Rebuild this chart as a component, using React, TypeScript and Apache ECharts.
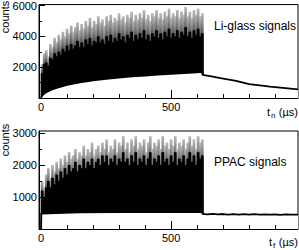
import React, { useEffect, useRef } from "react";
import * as echarts from "echarts";

// histogram bins: centre of bin i is BIN_START + i * BIN_WIDTH (µs)
const BIN_START = 4;
const BIN_WIDTH = 8;

// Li-glass: spike tips (grey) and dense core tops (black)
const liPeak = [
  2200, 2900, 3100, 2700, 3500, 3300, 3900, 3600, 4100, 3800,
  4300, 4000, 4500, 4200, 4700, 4300, 4600, 4900, 4400, 4800,
  4500, 5000, 4700, 5200, 4600, 5000, 4800, 5300, 4900, 5100,
  4700, 5300, 5000, 5400, 4900, 5200, 5000, 5500, 5100, 5300,
  4900, 5400, 5200, 5600, 5000, 5400, 5100, 5500, 5200, 5700,
  5100, 5400, 5000, 5500, 5300, 5700, 5200, 5500, 5100, 5600,
  5300, 5800, 5200, 5500, 5300, 5700, 5200, 5600, 5400, 5900,
  5300, 5600, 5200, 5700, 5400, 5800, 5300, 5500,
];
const liDark = [
  1600, 2200, 2300, 2100, 2600, 2500, 2900, 2700, 3000, 2800,
  3200, 3000, 3400, 3100, 3500, 3200, 3400, 3700, 3300, 3600,
  3300, 3800, 3500, 3900, 3400, 3700, 3600, 4000, 3600, 3800,
  3500, 4000, 3700, 4100, 3600, 3900, 3700, 4200, 3800, 4000,
  3600, 4100, 3900, 4300, 3700, 4100, 3800, 4200, 3900, 4400,
  3800, 4100, 3700, 4200, 4000, 4400, 3900, 4200, 3800, 4300,
  4000, 4500, 3900, 4200, 4000, 4400, 3900, 4300, 4100, 4600,
  4000, 4300, 3900, 4400, 4100, 4500, 4000, 4200,
];
// Li-glass lower envelope and tail after the beam gate
const liBaseT = [0, 8, 20, 40, 60, 80, 100, 150, 200, 250, 300, 350, 400, 450, 500, 550, 600, 619,
  621, 650, 690, 750, 800, 850, 880, 940, 988];
const liBaseV = [60, 220, 380, 540, 660, 760, 850, 1010, 1140, 1240, 1330, 1400, 1460, 1520, 1570, 1620, 1670, 1690,
  1500, 1420, 1290, 1110, 900, 800, 740, 640, 560];

// PPAC
const ppPeak = [
  1500, 1300, 1700, 1900, 1600, 2000, 1800, 2100, 1900, 2200,
  2000, 2300, 2100, 2400, 2200, 2300, 2500, 2200, 2400, 2300,
  2600, 2300, 2500, 2400, 2700, 2300, 2500, 2600, 2400, 2700,
  2500, 2800, 2400, 2600, 2500, 2800, 2400, 2700, 2600, 2900,
  2500, 2700, 2400, 2800, 2600, 2900, 2500, 2700, 2600, 2800,
  2400, 2700, 2900, 2500, 2700, 2600, 2800, 2500, 2900, 2600,
  2700, 2500, 2800, 2600, 2900, 2500, 2700, 2600, 2800, 2500,
  2700, 2900, 2600, 2800, 2500, 2900, 2700, 2800,
];
const ppDark = [
  1200, 1000, 1300, 1500, 1300, 1600, 1400, 1700, 1500, 1800,
  1600, 1900, 1700, 2000, 1800, 1900, 2100, 1800, 2000, 1900,
  2200, 1900, 2100, 2000, 2200, 1900, 2100, 2200, 2000, 2300,
  2100, 2300, 2000, 2200, 2100, 2300, 2000, 2200, 2100, 2400,
  2100, 2200, 2000, 2300, 2100, 2400, 2000, 2200, 2100, 2300,
  2000, 2200, 2400, 2000, 2200, 2100, 2300, 2000, 2400, 2100,
  2200, 2000, 2300, 2100, 2400, 2000, 2200, 2100, 2300, 2000,
  2200, 2400, 2100, 2300, 2000, 2400, 2200, 2300,
];
const ppBaseT = [0, 1, 60, 150, 300, 450, 619,
  621, 640, 660, 680, 700, 720, 740, 760, 780, 800, 820, 840, 860, 880, 900, 920, 940, 960, 988];
const ppBaseV = [0, 480, 500, 520, 530, 530, 530,
  470, 458, 472, 455, 468, 452, 466, 450, 462, 448, 463, 450, 460, 446, 458, 444, 455, 447, 450];

const xMajor = [0, 500];
const xLabels = [0, 500];
const xMinor = [100, 200, 300, 400, 600, 700, 800, 900];
const liYLabels = [2000, 4000, 6000];
const liYMinor = [1000, 3000, 5000];
const ppYLabels = [1000, 2000, 3000];
const ppYMinor = [500, 1500, 2500];

const FONT = "'Liberation Sans', Arial, Helvetica, sans-serif";

export default function App() {
  const ref = useRef<HTMLDivElement>(null);
  useEffect(() => {
    document.body.style.margin = "0";
    const chart = echarts.init(ref.current!, null, { renderer: "svg" });
    const bins = (arr: number[]) => arr.map((v, i) => [BIN_START + i * BIN_WIDTH, v]);
    const pairs = (t: number[], v: number[]) => t.map((x, i) => [x, v[i]]);
    const lbl = { color: "#000", fontSize: 11, fontFamily: FONT, formatter: (v: number) => String(v) };

    const xAxisPair = (grid: number) => [
      {
        type: "value", gridIndex: grid, min: -8, max: 988, position: "bottom", z: 5,
        axisLine: { onZero: false, lineStyle: { color: "#000", width: 1 } },
        axisTick: { inside: true, length: 8, customValues: xMajor, lineStyle: { color: "#000" } },
        axisLabel: { ...lbl, margin: 3, customValues: xLabels },
        splitLine: { show: false },
      },
      {
        type: "value", gridIndex: grid, min: -8, max: 988, position: "bottom", z: 5,
        axisLine: { show: false, onZero: false },
        axisTick: { inside: true, length: 4, customValues: xMinor, lineStyle: { color: "#000" } },
        axisLabel: { show: false },
        splitLine: { show: false },
      },
    ];
    const yAxisPair = (grid: number, max: number, labels: number[], minor: number[]) => [
      {
        type: "value", gridIndex: grid, min: 0, max, position: "left", z: 5,
        axisLine: { onZero: false, lineStyle: { color: "#000", width: 1 } },
        axisTick: { inside: true, length: 6, customValues: labels, lineStyle: { color: "#000" } },
        axisLabel: { ...lbl, margin: 2, customValues: labels },
        splitLine: { show: false },
      },
      {
        type: "value", gridIndex: grid, min: 0, max, position: "left", z: 5,
        axisLine: { show: false, onZero: false },
        axisTick: { inside: true, length: 3, customValues: minor, lineStyle: { color: "#000" } },
        axisLabel: { show: false },
        splitLine: { show: false },
      },
    ];

    const tipColor = new echarts.graphic.LinearGradient(0, 0, 0, 1, [
      { offset: 0, color: "#b8b8b8" },
      { offset: 0.12, color: "#8c8c8c" },
      { offset: 0.3, color: "#3a3a3a" },
      { offset: 1, color: "#111" },
    ]);
    const spikes = (data: number[], color: any, xi: number, yi: number) => ({
      type: "bar", xAxisIndex: xi, yAxisIndex: yi, data: bins(data), barWidth: 2.7, barGap: "-100%",
      itemStyle: { color }, z: 2, silent: true,
    });
    const envelope = (t: number[], v: number[], xi: number, yi: number) => ({
      type: "line", xAxisIndex: xi, yAxisIndex: yi, data: pairs(t, v), symbol: "none", z: 3,
      lineStyle: { color: "#000", width: 1.8 }, areaStyle: { color: "#fff", opacity: 1 }, silent: true,
    });

    const txt = (x: number, y: number, text: string, size: number, align: string, rotation = 0) => ({
      type: "text", x, y, rotation, z: 10,
      style: { text, fontSize: size, fontFamily: FONT, fill: "#000", align, verticalAlign: "middle" },
    });

    const option = {
      animation: false,
      backgroundColor: "#fff",
      grid: [
        { left: 39, top: 1, width: 259, height: 97, show: true, borderColor: "#000", borderWidth: 1 },
        { left: 39, top: 131, width: 259, height: 98, show: true, borderColor: "#000", borderWidth: 1 },
      ],
      xAxis: [...xAxisPair(0), ...xAxisPair(1)],
      yAxis: [...yAxisPair(0, 6060, liYLabels, liYMinor), ...yAxisPair(1, 3062, ppYLabels, ppYMinor)],
      series: [
        spikes(liPeak, tipColor, 0, 0),
        spikes(liDark, "#000", 0, 0),
        envelope(liBaseT, liBaseV, 0, 0),
        spikes(ppPeak, tipColor, 2, 2),
        spikes(ppDark, "#000", 2, 2),
        envelope(ppBaseT, ppBaseV, 2, 2),
      ],
      graphic: [
        txt(5, 17, "counts", 11, "center", Math.PI / 2),
        txt(5, 140, "counts", 11, "center", Math.PI / 2),
        txt(214, 26, "Li-glass signals", 12, "left"),
        txt(214, 162, "PPAC signals", 12, "left"),
        txt(267, 112, "t", 11, "left"),
        txt(271, 115, "n", 8, "left"),
        txt(298, 112, "(µs)", 11, "right"),
        txt(269, 242, "t", 11, "left"),
        txt(273, 245, "f", 8, "left"),
        txt(298, 242, "(µs)", 11, "right"),
      ],
    };
    chart.setOption(option as any);
    return () => chart.dispose();
  }, []);
  return <div ref={ref} style={{ width: 299, height: 250 }} />;
}
